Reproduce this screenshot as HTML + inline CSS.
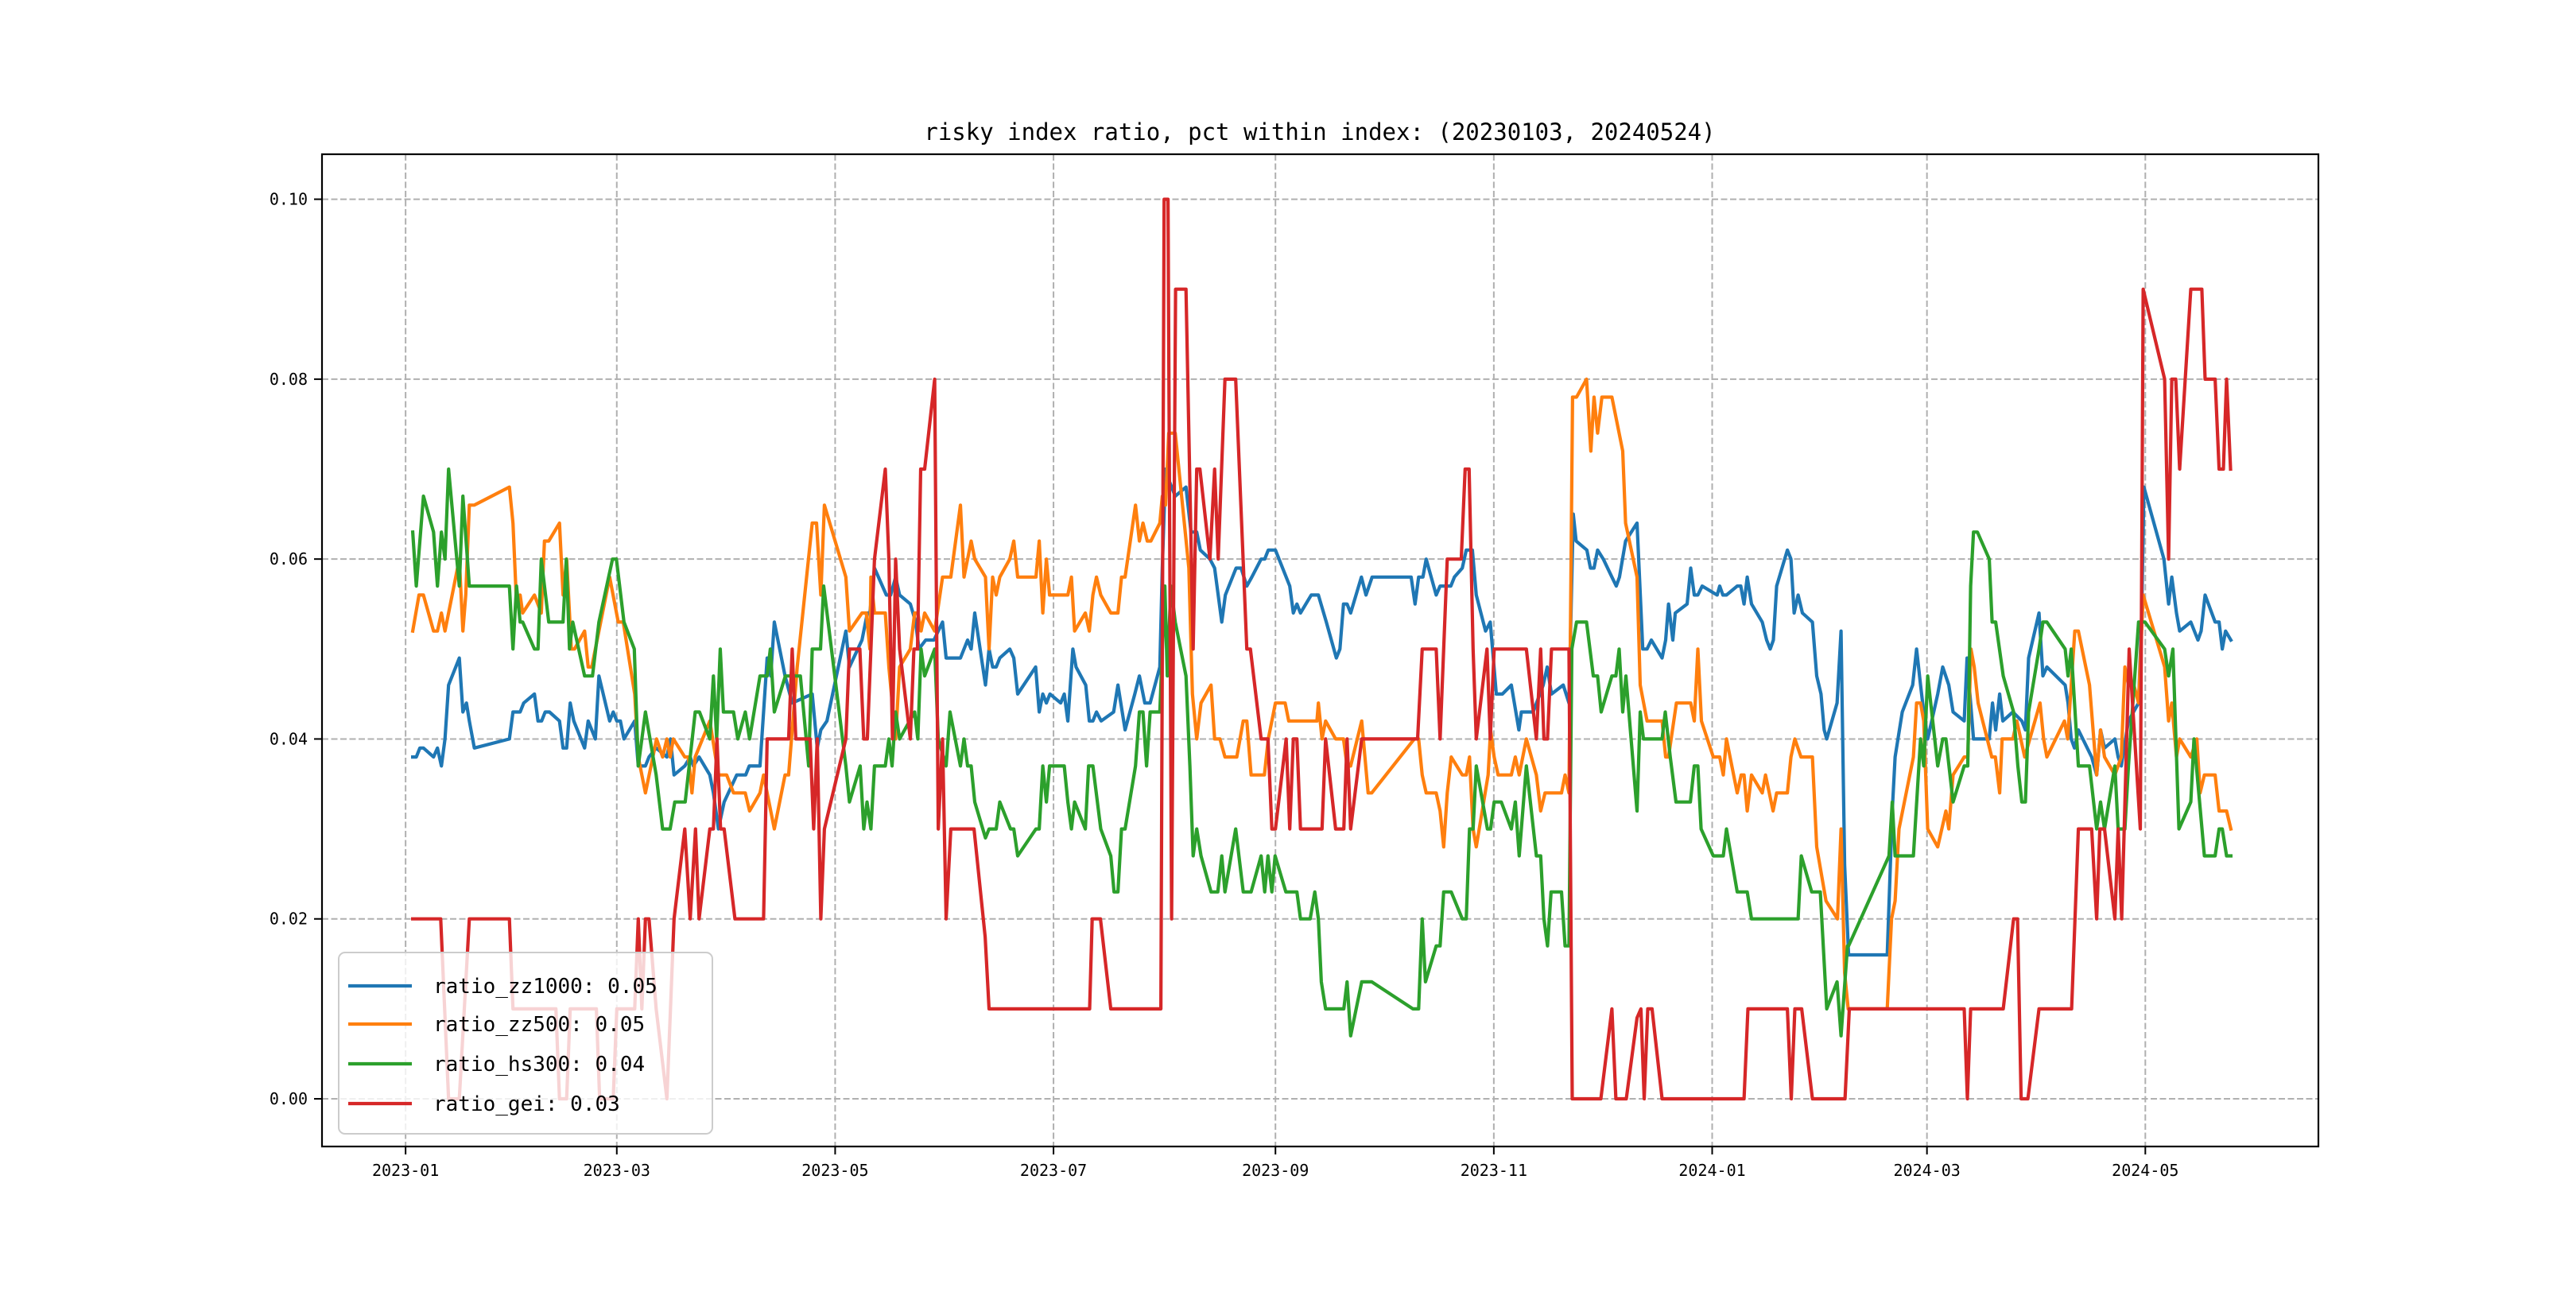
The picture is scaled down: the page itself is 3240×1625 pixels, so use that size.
<!DOCTYPE html>
<html><head><meta charset="utf-8">
<style>
html,body{margin:0;padding:0;background:#fff;}
svg text{font-family:"DejaVu Sans Mono","Liberation Mono","Noto Sans CJK SC",monospace;}
</style></head>
<body>
<svg id="chart" width="3240" height="1620" viewBox="0 0 3240 1620" xmlns="http://www.w3.org/2000/svg">
<rect width="3240" height="1620" fill="#fff"/>
<text x="1660" y="176" text-anchor="middle" font-size="29" fill="#000">risky index ratio, pct within index: (20230103, 20240524)</text>
<g id="grid"></g>
<g id="series"></g>
<rect x="405" y="194" width="2511" height="1248" fill="none" stroke="#000" stroke-width="2.2"/>
<g id="ticks"></g>
<g id="legend"></g>
</svg>
<script>
// x values = trading day offset from 2023-01-03
const xTickDays = [-2,57,118,179,241,302,363,423,484];
const xTickLabels = ["2023-01","2023-03","2023-05","2023-07","2023-09","2023-11","2024-01","2024-03","2024-05"];
const yTicks = [0,0.02,0.04,0.06,0.08,0.10];
const yTickLabels = ["0.00","0.02","0.04","0.06","0.08","0.10"];
const seriesNames = ["ratio_zz1000: 0.05","ratio_zz500: 0.05","ratio_hs300: 0.04","ratio_gei: 0.03"];

const zz1000Days = [0,1,2,3,5.8,6.9,8,9,10,13,14,15,15.8,17.2,27,28,30,31,34,35,36,37,38.2,41,42,43,44,45,48,49,51,52,55,56,57,58,59,62,63,65,66,68,71,72,73,76,77.5,78.4,80,83,84,85.4,87,90.5,93,94,97,99,100,101,104,106,111.6,113,114,115.7,121,122,125.5,127,127.7,129,132.3,133.5,134.9,136,139,140.5,141.4,143.3,145.6,148,149,153,155,156,157,160,161,162,163,164,166.8,167.9,169,174,175,176,177,178,181,182,183,184.4,185.3,188,189,190,191,192.3,195.8,197,199,201.7,203,204.5,206,208.7,209.4,210.3,211,213,216,217.4,219,220,222.7,224,226,227,230,231.4,233,234.4,237,238,239,241,245,246,247,248,251,253,255.2,258,259,260,261,262,265,266.3,268,278.9,280,281,282.2,283.1,285.9,287,290,291,293.2,294.3,296,297.1,299.7,301,302.7,304.4,306.9,309,309.7,313,315.8,316.9,318.1,321.4,323,324.2,325,328,329,330,331,332.6,335,336.2,337.1,338.8,342,343.6,344.8,346,349,350,350.8,352,352.7,356,357,358,359,360.2,364.4,365.1,366,367,370,371,371.9,372.8,374,377,378.2,379.2,380.1,381,384,385,385.9,387,388.2,391,392.2,393.4,394.3,395,397.9,399,400,401.1,411.9,413.3,414.1,416.1,419,420.1,421.2,422.1,423.2,426,427.4,429.1,430.3,433.4,434.2,436,440.4,441.3,442.2,443.3,444.2,447,449.5,450.5,451.4,454.3,455.4,456.5,461.6,462.4,463.3,464.2,465.3,469,470.4,471.5,472.6,475.5,476.4,477.3,479.3,482.1,483,483.6,489.2,490.5,491.4,492.7,493.6,496.7,498.7,499.6,500.7,503.5,504.6,505.5,506.4,507.9];
const zz1000Vals = [.038,.038,.039,.039,.038,.039,.037,.040,.046,.049,.043,.044,.042,.039,.040,.043,.043,.044,.045,.042,.042,.043,.043,.042,.039,.039,.044,.042,.039,.042,.040,.047,.042,.043,.042,.042,.040,.042,.037,.037,.038,.039,.038,.040,.036,.037,.038,.037,.038,.036,.034,.030,.033,.036,.036,.037,.037,.049,.047,.053,.047,.044,.045,.039,.041,.042,.052,.048,.051,.054,.054,.059,.056,.056,.058,.056,.055,.053,.050,.051,.051,.053,.049,.049,.051,.050,.054,.046,.050,.048,.048,.049,.050,.049,.045,.048,.043,.045,.044,.045,.044,.045,.042,.050,.048,.046,.042,.042,.043,.042,.043,.046,.041,.045,.047,.044,.044,.048,.059,.070,.069,.067,.068,.063,.063,.061,.060,.059,.053,.056,.059,.059,.057,.058,.060,.060,.061,.061,.057,.054,.055,.054,.056,.056,.053,.049,.050,.055,.055,.054,.058,.056,.058,.058,.055,.058,.058,.060,.056,.057,.057,.058,.059,.061,.061,.056,.052,.053,.045,.045,.046,.041,.043,.043,.046,.048,.045,.046,.044,.065,.062,.061,.059,.059,.061,.060,.058,.057,.058,.062,.064,.050,.050,.051,.049,.051,.055,.051,.054,.055,.059,.056,.056,.057,.056,.057,.056,.056,.057,.057,.055,.058,.055,.053,.051,.050,.051,.057,.061,.060,.054,.056,.054,.053,.047,.045,.041,.040,.044,.052,.026,.016,.016,.032,.038,.043,.046,.050,.046,.043,.040,.045,.048,.046,.043,.042,.049,.040,.040,.044,.041,.045,.042,.043,.042,.041,.049,.054,.047,.048,.046,.044,.040,.039,.041,.038,.036,.041,.039,.040,.038,.037,.042,.044,.054,.068,.060,.055,.058,.054,.052,.053,.051,.052,.056,.053,.053,.050,.052,.051];

const zz500Days = [0,1.75,3,5.8,6.9,8,9,13,14,14.8,15.8,17.2,27,28,29,30,30.7,34,35.9,36.8,38,41,42,43,44.3,45.2,48,49,50,55,57.4,58.8,62,63,65,68.1,69.8,71,71.9,72.8,76,77,78,78.9,83,85.4,87.7,89.6,92.9,94.1,97,98,101,104,105,107.4,111.6,112.8,114,115,121,122,125.5,126.7,127.7,128,129,132,133,134.9,136,139,140.2,141.1,142,143,145.8,148,150.3,153,154,156,157,160,161,162,163,164,166.8,167.9,169,174.1,175,176,177,177.9,183,184,184.9,187.9,189,190,191,192.2,195,197,198,199,201.9,203,204,205.2,206.2,208.7,209.4,210.3,211.2,213,216.8,217.8,219,220.2,223,224,225.5,226.9,230.2,232,233,234.2,237.9,239,241,243.7,244.7,252.6,253,254,255,257.8,260,261,262,265.1,266.9,267.9,279.8,281,282,283.1,285.9,287,288,289,290.1,293.2,294.3,295.2,296.2,297.1,300.4,301.1,302.1,303.2,306.9,308,309.1,311.1,313.9,315.1,316.3,320.9,321.9,323,324,325.1,327.9,329.1,330,331,332.2,335,338,338.8,342,342.9,344.8,349,350,350.8,353,357,358,359,360,363.3,365.1,366.1,367,370,371.1,371.9,372.8,374,377,377.9,380,381,384,385,386.1,387.8,391,392.2,394.8,398,399,400,401,411.9,413.1,414.1,415.2,419.2,420.1,421.2,422.1,423.2,426,428.3,429.1,430.3,433.4,434.4,435.3,436.2,437.3,441.1,442.1,443.3,444,447,448.1,450.3,454.6,455.6,456.5,461.4,462.3,464.3,465.3,468.4,470.4,471.5,472.6,475.5,477.3,478.3,479.3,480.8,482.1,483.4,487.9,489.4,490.5,491.4,492.7,493.6,496.7,498.4,499.3,500.5,503.5,504.6,506.7,507.9];
const zz500Vals = [.052,.056,.056,.052,.052,.054,.052,.060,.052,.056,.066,.066,.068,.064,.055,.056,.054,.056,.054,.062,.062,.064,.056,.060,.050,.050,.052,.048,.048,.058,.053,.053,.045,.038,.034,.040,.038,.040,.038,.040,.038,.038,.034,.038,.042,.036,.036,.034,.034,.032,.034,.036,.030,.036,.036,.048,.064,.064,.056,.066,.058,.052,.054,.054,.050,.058,.054,.054,.048,.040,.048,.050,.054,.054,.052,.054,.052,.058,.058,.066,.058,.062,.060,.058,.050,.058,.056,.058,.060,.062,.058,.058,.062,.054,.060,.056,.056,.058,.052,.054,.052,.056,.058,.056,.054,.054,.058,.058,.066,.062,.064,.062,.062,.064,.067,.066,.074,.074,.059,.045,.040,.044,.046,.040,.040,.038,.038,.042,.042,.036,.036,.040,.044,.044,.042,.042,.044,.040,.042,.040,.040,.037,.037,.042,.034,.034,.040,.040,.036,.034,.034,.032,.028,.034,.038,.036,.036,.038,.030,.028,.036,.041,.038,.036,.036,.038,.036,.040,.036,.032,.034,.034,.036,.034,.078,.078,.080,.072,.078,.074,.078,.078,.072,.064,.058,.046,.042,.042,.038,.038,.044,.044,.042,.050,.042,.038,.038,.036,.040,.034,.036,.036,.032,.036,.034,.036,.032,.034,.034,.038,.040,.038,.038,.028,.022,.020,.030,.014,.010,.010,.020,.022,.030,.038,.044,.044,.042,.030,.028,.032,.030,.036,.038,.038,.050,.048,.044,.038,.038,.034,.040,.040,.042,.038,.044,.040,.038,.042,.040,.052,.052,.046,.036,.041,.038,.036,.038,.048,.046,.046,.044,.056,.050,.048,.042,.044,.038,.040,.038,.040,.034,.036,.036,.032,.032,.030];

const hs300Days = [0,1,3,5.8,6.9,8,9,10,13,14,15.8,27,28,29,30,30.7,34,35,35.9,38,42,42.9,43.8,44.7,48,50.2,52,55.8,56.9,59,61.9,63,65,68,69.8,71.9,73.2,76.1,78.9,80.1,83,84,84.9,85.9,86.8,89.6,90.8,92.9,94.1,97,99,99.9,101,104.1,108.3,110.6,111.6,113.9,114.8,121,122,125,126,126.9,128,129,132,133,133.9,134.9,136,140.2,141.1,142,143,145.8,146.8,149,150.1,153,154,155,156,157,160,161,163,164,167,167.9,169,174.1,175,176,177,177.9,182,183,184,184.9,187.9,188.8,190,192.2,195,195.9,197,198,199,201.9,203,204,205,206,208.7,210.1,210.8,211.8,213,216,217.1,218,219,220.2,223,224.9,226,226.9,229.9,232,234.2,237,238,238.9,240,240.9,243.9,247,248,250.7,252,253,253.8,255,260.1,261,262,265.1,267.9,279.4,281,282,282.9,285.9,287,288,290.1,293.2,294.3,295.2,296.2,297.1,300.2,301.1,302.1,304.1,306.9,308,309.1,311.1,313.9,315.1,316,317,318,320.9,321.9,323,323.8,325.1,327.9,329.8,331,332,335,336.1,337,338,338.9,342,342.9,343.8,349,349.9,351.3,352.9,356.9,358,359,359.9,363.3,366.1,367,370,372.8,374,387,387.9,390.8,393.2,395,397.9,399,400.8,401.1,412.4,413.3,414.1,419.2,421.2,422.1,423.2,426,427.4,428.3,430.3,433.4,434.4,435.2,436,437.1,440.4,441.2,442.2,444.3,447.2,448.4,449.5,450.5,451.4,454.3,455.4,456.5,461.6,462.4,463.3,465.3,468.4,470.4,471.5,472.6,475.5,476.4,478.3,479.3,482.1,483.9,489.4,490.5,491.7,493.4,496.7,497.6,500.5,503.5,504.6,505.5,506.7,507.9];
const hs300Vals = [.063,.057,.067,.063,.057,.063,.060,.070,.057,.067,.057,.057,.050,.057,.053,.053,.050,.050,.060,.053,.053,.060,.050,.053,.047,.047,.053,.060,.060,.053,.050,.037,.043,.036,.030,.030,.033,.033,.043,.043,.040,.047,.040,.050,.043,.043,.040,.043,.040,.047,.047,.050,.043,.047,.047,.037,.050,.050,.057,.037,.033,.037,.030,.033,.030,.037,.037,.040,.037,.043,.040,.043,.040,.050,.047,.050,.040,.037,.043,.037,.040,.037,.037,.033,.029,.030,.030,.033,.030,.030,.027,.030,.030,.037,.033,.037,.037,.033,.030,.033,.030,.037,.037,.030,.027,.023,.023,.030,.030,.037,.043,.043,.037,.043,.043,.057,.047,.057,.053,.047,.037,.027,.030,.027,.023,.023,.027,.023,.030,.023,.023,.027,.023,.027,.023,.027,.023,.023,.020,.020,.023,.020,.013,.010,.010,.013,.007,.013,.013,.010,.010,.020,.013,.017,.017,.023,.023,.020,.020,.030,.030,.037,.030,.030,.033,.033,.030,.033,.027,.037,.027,.027,.020,.017,.023,.023,.017,.017,.050,.053,.053,.047,.047,.043,.047,.047,.050,.043,.047,.032,.043,.040,.040,.043,.038,.033,.033,.037,.037,.030,.027,.027,.030,.023,.023,.020,.020,.027,.023,.023,.010,.013,.007,.017,.017,.027,.033,.027,.027,.040,.037,.047,.037,.040,.040,.033,.037,.037,.057,.063,.063,.060,.053,.053,.047,.043,.037,.033,.033,.043,.050,.053,.053,.050,.047,.050,.037,.037,.030,.033,.030,.037,.030,.030,.037,.053,.053,.050,.047,.050,.030,.033,.040,.027,.027,.030,.030,.027,.027];

const geiDays = [0,7.8,10,13,15.8,27,28,40,41,43,44,51.3,52.2,56,57,62,63,64,65,66,68,71,72,73,76,77.5,79,80,83,84,85,86,87,90,98,99,105,106,107,111,112,113,114,115,121,122,124.9,126,127,129,132,133,134,134.9,136,139,140,141,141.9,143,145.8,146.8,148,149,150.3,156.8,159.9,161,189.1,189.8,192.1,195,209,209.9,211,212,213.1,216,218,219,219.9,222.7,224,225,226.9,229.9,233,234,237,238.9,240,241,244,245,246,247,248,254,255,257.8,260.1,261,262,265.1,280.7,282,285.9,287,289,292.9,294,295.1,296.2,297.1,300.1,301,302.1,311.1,313.9,315.1,316,317,318.1,323,323.9,331.9,335,336.1,339,342,343.1,344,345,346.2,349,371.9,373,384,385.1,386.1,388,391,400.1,401.3,433.4,434.3,435.2,444.3,447.2,448.3,449.3,451.2,454.3,463.4,465.3,469,470.4,471.3,472.6,475.5,476.4,477.4,479.5,482.6,483.4,489.4,490.5,491.4,492.5,493.6,496.7,499.8,500.7,503.5,504.6,505.8,506.7,507.8];
const geiVals = [.02,.02,0,0,.02,.02,.01,.01,0,0,.01,.01,0,0,.01,.01,.02,.01,.02,.02,.01,0,.01,.02,.03,.02,.03,.02,.03,.03,.04,.03,.03,.02,.02,.04,.04,.05,.04,.04,.03,.04,.02,.03,.04,.05,.05,.04,.04,.06,.07,.06,.04,.06,.05,.04,.05,.05,.07,.07,.08,.03,.04,.02,.03,.03,.018,.01,.01,.02,.02,.01,.01,.10,.10,.02,.09,.09,.05,.07,.07,.06,.07,.06,.08,.08,.05,.05,.04,.04,.03,.03,.04,.03,.04,.04,.03,.03,.04,.03,.03,.04,.03,.04,.04,.05,.05,.04,.06,.06,.07,.07,.05,.04,.05,.04,.05,.05,.04,.05,.04,.04,.05,.05,0,0,.01,0,0,.009,.01,0,.01,.01,0,0,.01,.01,0,.01,.01,0,0,.01,.01,0,.01,.01,.02,.02,0,0,.01,.01,.03,.03,.02,.03,.03,.02,.03,.02,.05,.03,.09,.08,.06,.08,.08,.07,.09,.09,.08,.08,.07,.07,.08,.07];

const X0=405,X1=2916,Y0=194,Y1=1442;
const XMIN=-25.35,XMAX=532.35,YMIN=-0.0053,YMAX=0.1050;
function xs(d){return X0+(d-XMIN)/(XMAX-XMIN)*(X1-X0);}
function ys(v){return Y1-(v-YMIN)/(YMAX-YMIN)*(Y1-Y0);}
const NS="http://www.w3.org/2000/svg";
function mk(tag,attrs,parent){const e=document.createElementNS(NS,tag);for(const k in attrs)e.setAttribute(k,attrs[k]);parent.appendChild(e);return e;}
const grid=document.getElementById('grid'),ticks=document.getElementById('ticks'),ser=document.getElementById('series'),leg=document.getElementById('legend');

xTickDays.forEach((d,i)=>{
  const x=xs(d);
  const g=mk('line',{x1:x,x2:x,y1:Y0,y2:Y1,stroke:'#b0b0b0','stroke-width':2,'stroke-dasharray':'8,3.5'},grid);
  
  
  const t=mk('line',{x1:x,x2:x,y1:Y1,y2:Y1+10,stroke:'#000','stroke-width':2},ticks);
  
  
  const l=mk('text',{x:x,y:Y1+37,'text-anchor':'middle','font-size':20,fill:'#000'},ticks);
  l.textContent=xTickLabels[i];
  
  
});
yTicks.forEach((v,i)=>{
  const y=ys(v);
  const g=mk('line',{x1:X0,x2:X1,y1:y,y2:y,stroke:'#b0b0b0','stroke-width':2,'stroke-dasharray':'8,3.5'},grid);
  
  
  const t=mk('line',{x1:X0-10,x2:X0,y1:y,y2:y,stroke:'#000','stroke-width':2},ticks);
  
  
  const l=mk('text',{x:X0-18,y:y+7,'text-anchor':'end','font-size':20,fill:'#000'},ticks);
  l.textContent=yTickLabels[i];
  
  
});
const allSeries=[[zz1000Days,zz1000Vals,'#1f77b4','line-zz1000'],[zz500Days,zz500Vals,'#ff7f0e','line-zz500'],[hs300Days,hs300Vals,'#2ca02c','line-hs300'],[geiDays,geiVals,'#d62728','line-gei']];
allSeries.forEach(s=>{
  const pts=s[0].map((d,i)=>xs(d).toFixed(1)+','+ys(s[1][i]).toFixed(1)).join(' ');
  const p=mk('polyline',{points:pts,fill:'none',stroke:s[2],'stroke-width':4.2,'stroke-linejoin':'round','stroke-linecap':'square'},ser);
  
  
});
const box=mk('rect',{x:426,y:1198,width:470,height:228,rx:8,fill:'#fff','fill-opacity':0.8,stroke:'#cccccc','stroke-width':2},leg);


const legY=[1240,1288,1338,1388];
seriesNames.forEach((n,i)=>{
  const ln=mk('line',{x1:438,x2:518,y1:legY[i],y2:legY[i],stroke:allSeries[i][2],'stroke-width':4.2},leg);
  
  
  const t=mk('text',{x:545,y:legY[i]+9,'font-size':26,fill:'#000'},leg);
  t.textContent=n;
  
  
});
</script>
</body></html>
